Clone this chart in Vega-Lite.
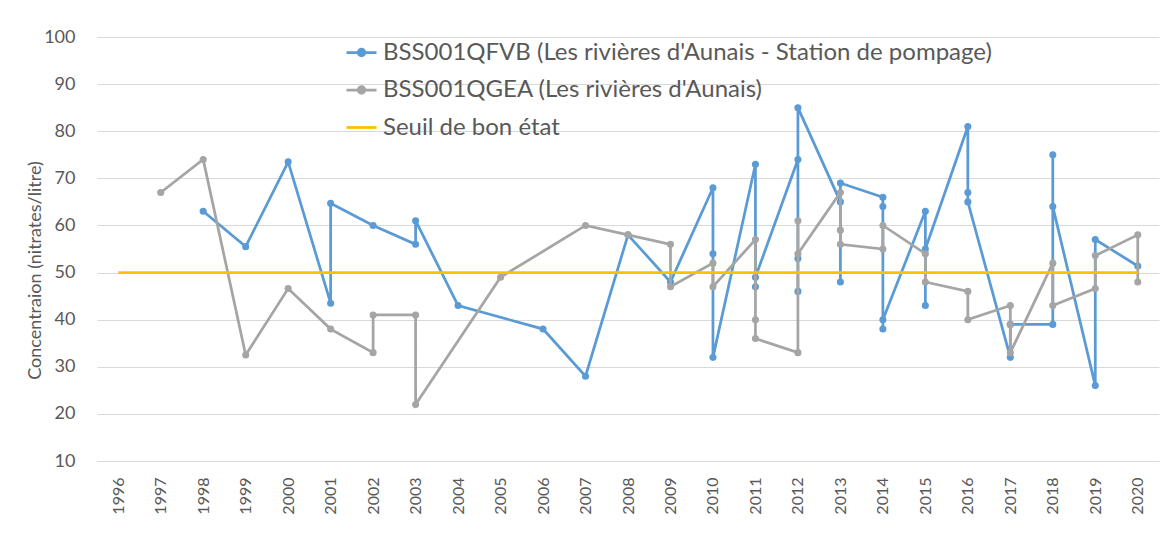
{
  "$schema": "https://vega.github.io/schema/vega-lite/v6.json",
  "width": 1062,
  "height": 424,
  "autosize": {"type": "none"},
  "padding": {"left": 97, "top": 37, "right": 2, "bottom": 81},
  "background": "white",
  "config": {
    "font": "Lato",
    "view": {"stroke": null},
    "axis": {"labelColor": "#595959", "titleColor": "#595959", "titleFontWeight": "normal", "gridColor": "#D9D9D9", "domainColor": "#D9D9D9", "ticks": false}
  },
  "datasets": {
    "pts": [
      {"year": 1998, "v": 63, "o": 1, "s": "BSS001QFVB (Les rivières d'Aunais - Station de pompage)"},
      {"year": 1999, "v": 55.5, "o": 2, "s": "BSS001QFVB (Les rivières d'Aunais - Station de pompage)"},
      {"year": 2000, "v": 73.5, "o": 3, "s": "BSS001QFVB (Les rivières d'Aunais - Station de pompage)"},
      {"year": 2001, "v": 43.5, "o": 4, "s": "BSS001QFVB (Les rivières d'Aunais - Station de pompage)"},
      {"year": 2001, "v": 64.7, "o": 5, "s": "BSS001QFVB (Les rivières d'Aunais - Station de pompage)"},
      {"year": 2002, "v": 60, "o": 6, "s": "BSS001QFVB (Les rivières d'Aunais - Station de pompage)"},
      {"year": 2003, "v": 56, "o": 7, "s": "BSS001QFVB (Les rivières d'Aunais - Station de pompage)"},
      {"year": 2003, "v": 61, "o": 8, "s": "BSS001QFVB (Les rivières d'Aunais - Station de pompage)"},
      {"year": 2004, "v": 43, "o": 9, "s": "BSS001QFVB (Les rivières d'Aunais - Station de pompage)"},
      {"year": 2006, "v": 38, "o": 10, "s": "BSS001QFVB (Les rivières d'Aunais - Station de pompage)"},
      {"year": 2007, "v": 28, "o": 11, "s": "BSS001QFVB (Les rivières d'Aunais - Station de pompage)"},
      {"year": 2008, "v": 58, "o": 12, "s": "BSS001QFVB (Les rivières d'Aunais - Station de pompage)"},
      {"year": 2009, "v": 48, "o": 13, "s": "BSS001QFVB (Les rivières d'Aunais - Station de pompage)"},
      {"year": 2010, "v": 68, "o": 14, "s": "BSS001QFVB (Les rivières d'Aunais - Station de pompage)"},
      {"year": 2010, "v": 54, "o": 15, "s": "BSS001QFVB (Les rivières d'Aunais - Station de pompage)"},
      {"year": 2010, "v": 32, "o": 16, "s": "BSS001QFVB (Les rivières d'Aunais - Station de pompage)"},
      {"year": 2011, "v": 73, "o": 17, "s": "BSS001QFVB (Les rivières d'Aunais - Station de pompage)"},
      {"year": 2011, "v": 47, "o": 18, "s": "BSS001QFVB (Les rivières d'Aunais - Station de pompage)"},
      {"year": 2011, "v": 49, "o": 19, "s": "BSS001QFVB (Les rivières d'Aunais - Station de pompage)"},
      {"year": 2012, "v": 74, "o": 20, "s": "BSS001QFVB (Les rivières d'Aunais - Station de pompage)"},
      {"year": 2012, "v": 53, "o": 21, "s": "BSS001QFVB (Les rivières d'Aunais - Station de pompage)"},
      {"year": 2012, "v": 46, "o": 22, "s": "BSS001QFVB (Les rivières d'Aunais - Station de pompage)"},
      {"year": 2012, "v": 85, "o": 23, "s": "BSS001QFVB (Les rivières d'Aunais - Station de pompage)"},
      {"year": 2013, "v": 65, "o": 24, "s": "BSS001QFVB (Les rivières d'Aunais - Station de pompage)"},
      {"year": 2013, "v": 48, "o": 25, "s": "BSS001QFVB (Les rivières d'Aunais - Station de pompage)"},
      {"year": 2013, "v": 69, "o": 26, "s": "BSS001QFVB (Les rivières d'Aunais - Station de pompage)"},
      {"year": 2014, "v": 66, "o": 27, "s": "BSS001QFVB (Les rivières d'Aunais - Station de pompage)"},
      {"year": 2014, "v": 64, "o": 28, "s": "BSS001QFVB (Les rivières d'Aunais - Station de pompage)"},
      {"year": 2014, "v": 38, "o": 29, "s": "BSS001QFVB (Les rivières d'Aunais - Station de pompage)"},
      {"year": 2014, "v": 40, "o": 30, "s": "BSS001QFVB (Les rivières d'Aunais - Station de pompage)"},
      {"year": 2015, "v": 63, "o": 31, "s": "BSS001QFVB (Les rivières d'Aunais - Station de pompage)"},
      {"year": 2015, "v": 43, "o": 32, "s": "BSS001QFVB (Les rivières d'Aunais - Station de pompage)"},
      {"year": 2015, "v": 55, "o": 33, "s": "BSS001QFVB (Les rivières d'Aunais - Station de pompage)"},
      {"year": 2016, "v": 81, "o": 34, "s": "BSS001QFVB (Les rivières d'Aunais - Station de pompage)"},
      {"year": 2016, "v": 67, "o": 35, "s": "BSS001QFVB (Les rivières d'Aunais - Station de pompage)"},
      {"year": 2016, "v": 65, "o": 36, "s": "BSS001QFVB (Les rivières d'Aunais - Station de pompage)"},
      {"year": 2017, "v": 32, "o": 37, "s": "BSS001QFVB (Les rivières d'Aunais - Station de pompage)"},
      {"year": 2017, "v": 39, "o": 38, "s": "BSS001QFVB (Les rivières d'Aunais - Station de pompage)"},
      {"year": 2018, "v": 39, "o": 39, "s": "BSS001QFVB (Les rivières d'Aunais - Station de pompage)"},
      {"year": 2018, "v": 75, "o": 40, "s": "BSS001QFVB (Les rivières d'Aunais - Station de pompage)"},
      {"year": 2018, "v": 64, "o": 41, "s": "BSS001QFVB (Les rivières d'Aunais - Station de pompage)"},
      {"year": 2019, "v": 26, "o": 42, "s": "BSS001QFVB (Les rivières d'Aunais - Station de pompage)"},
      {"year": 2019, "v": 57, "o": 43, "s": "BSS001QFVB (Les rivières d'Aunais - Station de pompage)"},
      {"year": 2020, "v": 51.4, "o": 44, "s": "BSS001QFVB (Les rivières d'Aunais - Station de pompage)"},
      {"year": 1997, "v": 67, "o": 1, "s": "BSS001QGEA (Les rivières d'Aunais)"},
      {"year": 1998, "v": 74, "o": 2, "s": "BSS001QGEA (Les rivières d'Aunais)"},
      {"year": 1999, "v": 32.5, "o": 3, "s": "BSS001QGEA (Les rivières d'Aunais)"},
      {"year": 2000, "v": 46.6, "o": 4, "s": "BSS001QGEA (Les rivières d'Aunais)"},
      {"year": 2001, "v": 38, "o": 5, "s": "BSS001QGEA (Les rivières d'Aunais)"},
      {"year": 2002, "v": 33, "o": 6, "s": "BSS001QGEA (Les rivières d'Aunais)"},
      {"year": 2002, "v": 41, "o": 7, "s": "BSS001QGEA (Les rivières d'Aunais)"},
      {"year": 2003, "v": 41, "o": 8, "s": "BSS001QGEA (Les rivières d'Aunais)"},
      {"year": 2003, "v": 22, "o": 9, "s": "BSS001QGEA (Les rivières d'Aunais)"},
      {"year": 2005, "v": 49, "o": 10, "s": "BSS001QGEA (Les rivières d'Aunais)"},
      {"year": 2007, "v": 60, "o": 11, "s": "BSS001QGEA (Les rivières d'Aunais)"},
      {"year": 2008, "v": 58, "o": 12, "s": "BSS001QGEA (Les rivières d'Aunais)"},
      {"year": 2009, "v": 56, "o": 13, "s": "BSS001QGEA (Les rivières d'Aunais)"},
      {"year": 2009, "v": 47, "o": 14, "s": "BSS001QGEA (Les rivières d'Aunais)"},
      {"year": 2010, "v": 52, "o": 15, "s": "BSS001QGEA (Les rivières d'Aunais)"},
      {"year": 2010, "v": 47, "o": 16, "s": "BSS001QGEA (Les rivières d'Aunais)"},
      {"year": 2011, "v": 57, "o": 17, "s": "BSS001QGEA (Les rivières d'Aunais)"},
      {"year": 2011, "v": 40, "o": 18, "s": "BSS001QGEA (Les rivières d'Aunais)"},
      {"year": 2011, "v": 36, "o": 19, "s": "BSS001QGEA (Les rivières d'Aunais)"},
      {"year": 2012, "v": 33, "o": 20, "s": "BSS001QGEA (Les rivières d'Aunais)"},
      {"year": 2012, "v": 61, "o": 21, "s": "BSS001QGEA (Les rivières d'Aunais)"},
      {"year": 2012, "v": 54, "o": 22, "s": "BSS001QGEA (Les rivières d'Aunais)"},
      {"year": 2013, "v": 67, "o": 23, "s": "BSS001QGEA (Les rivières d'Aunais)"},
      {"year": 2013, "v": 59, "o": 24, "s": "BSS001QGEA (Les rivières d'Aunais)"},
      {"year": 2013, "v": 56, "o": 25, "s": "BSS001QGEA (Les rivières d'Aunais)"},
      {"year": 2014, "v": 55, "o": 26, "s": "BSS001QGEA (Les rivières d'Aunais)"},
      {"year": 2014, "v": 60, "o": 27, "s": "BSS001QGEA (Les rivières d'Aunais)"},
      {"year": 2015, "v": 54, "o": 28, "s": "BSS001QGEA (Les rivières d'Aunais)"},
      {"year": 2015, "v": 48, "o": 29, "s": "BSS001QGEA (Les rivières d'Aunais)"},
      {"year": 2016, "v": 46, "o": 30, "s": "BSS001QGEA (Les rivières d'Aunais)"},
      {"year": 2016, "v": 40, "o": 31, "s": "BSS001QGEA (Les rivières d'Aunais)"},
      {"year": 2017, "v": 43, "o": 32, "s": "BSS001QGEA (Les rivières d'Aunais)"},
      {"year": 2017, "v": 39, "o": 33, "s": "BSS001QGEA (Les rivières d'Aunais)"},
      {"year": 2017, "v": 33, "o": 34, "s": "BSS001QGEA (Les rivières d'Aunais)"},
      {"year": 2018, "v": 52, "o": 35, "s": "BSS001QGEA (Les rivières d'Aunais)"},
      {"year": 2018, "v": 43, "o": 36, "s": "BSS001QGEA (Les rivières d'Aunais)"},
      {"year": 2019, "v": 46.6, "o": 37, "s": "BSS001QGEA (Les rivières d'Aunais)"},
      {"year": 2019, "v": 53.6, "o": 38, "s": "BSS001QGEA (Les rivières d'Aunais)"},
      {"year": 2020, "v": 58, "o": 39, "s": "BSS001QGEA (Les rivières d'Aunais)"},
      {"year": 2020, "v": 48, "o": 40, "s": "BSS001QGEA (Les rivières d'Aunais)"},
      {"year": 1996, "v": 50, "o": 1, "s": "Seuil de bon état"},
      {"year": 2020, "v": 50, "o": 2, "s": "Seuil de bon état"}
    ]
  },
  "data": {"name": "pts"},
  "encoding": {
    "x": {
      "field": "year", "type": "quantitative",
      "scale": {"domain": [1995.5, 2020.5], "nice": false, "zero": false},
      "axis": {"values": [1996,1997,1998,1999,2000,2001,2002,2003,2004,2005,2006,2007,2008,2009,2010,2011,2012,2013,2014,2015,2016,2017,2018,2019,2020], "format": "d", "labelAngle": -90, "grid": false, "title": null, "labelFontSize": 16, "labelPadding": 16, "domainWidth": 1}
    },
    "y": {
      "field": "v", "type": "quantitative",
      "scale": {"domain": [10, 100], "nice": false, "zero": false},
      "axis": {"values": [10,20,30,40,50,60,70,80,90,100], "domain": false, "grid": true, "labelFontSize": 18, "labelPadding": 22, "title": "Concentraion (nitrates/litre)", "titleFontSize": 18, "titleX": -62, "titleY": 233, "titleAlign": "center", "titleBaseline": "middle", "titleAngle": -90}
    },
    "color": {
      "field": "s", "type": "nominal",
      "scale": {"domain": ["BSS001QFVB (Les rivières d'Aunais - Station de pompage)", "BSS001QGEA (Les rivières d'Aunais)", "Seuil de bon état"], "range": ["#5B9BD5", "#A5A5A5", "#FFC000"]},
      "legend": {
        "orient": "none", "legendX": 248, "legendY": -1, "title": null,
        "labelFontSize": 24, "labelColor": "#595959", "labelLimit": 900, "labelOffset": 5,
        "symbolSize": 900, "symbolStrokeWidth": 2.75, "rowPadding": 8.5,
        "encode": {"symbols": {"update": {
          "shape": {"signal": "datum.value === 'Seuil de bon état' ? 'M-1,0H1' : 'M-1,0H1M-0.22,0A0.22,0.22 0 1,1 0.22,0A0.22,0.22 0 1,1 -0.22,0Z'"},
          "fill": {"scale": "color", "field": "value"},
          "stroke": {"scale": "color", "field": "value"}
        }}}
      }
    },
    "order": {"field": "o", "type": "quantitative"}
  },
  "layer": [
    {"transform": [{"filter": "datum.s === \"BSS001QFVB (Les rivières d'Aunais - Station de pompage)\""}], "mark": {"type": "line", "strokeWidth": 2.75}},
    {"transform": [{"filter": "datum.s === \"BSS001QFVB (Les rivières d'Aunais - Station de pompage)\""}], "mark": {"type": "circle", "size": 50, "opacity": 1}},
    {"transform": [{"filter": "datum.s === \"BSS001QGEA (Les rivières d'Aunais)\""}], "mark": {"type": "line", "strokeWidth": 2.75}},
    {"transform": [{"filter": "datum.s === \"BSS001QGEA (Les rivières d'Aunais)\""}], "mark": {"type": "circle", "size": 50, "opacity": 1}},
    {"transform": [{"filter": "datum.s === 'Seuil de bon état'"}], "mark": {"type": "line", "strokeWidth": 2.75}}
  ]
}
